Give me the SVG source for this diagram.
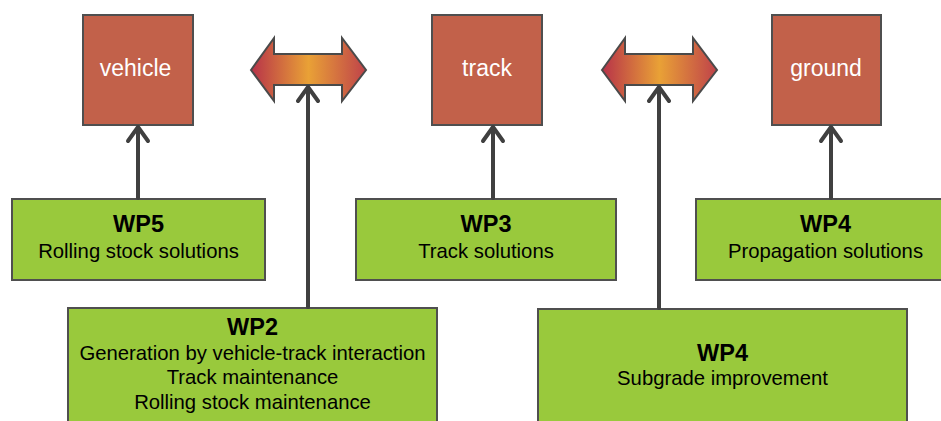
<svg xmlns="http://www.w3.org/2000/svg" width="941" height="421" viewBox="0 0 941 421">
  <style>
    .sys { fill: #c2614a; stroke: #4f4f4f; stroke-width: 2; }
    .wp { fill: #99c93c; stroke: #4f4f4f; stroke-width: 2; }
    .sysText { font-family: "Liberation Sans", Arial, sans-serif; font-size: 23px; fill: #ffffff; text-anchor: middle; }
    .title { font-family: "Liberation Sans", Arial, sans-serif; font-size: 23.5px; font-weight: bold; fill: #000000; text-anchor: middle; }
    .body { font-family: "Liberation Sans", Arial, sans-serif; font-size: 20.3px; fill: #000000; text-anchor: middle; }
    .link { stroke: #404040; stroke-width: 4; fill: none; stroke-linecap: round; stroke-linejoin: round; }
    .dbl { stroke: #4a4a4a; stroke-width: 2; }
  </style>
  <defs>
    <linearGradient id="interact" x1="0" y1="0" x2="1" y2="0">
      <stop offset="0" stop-color="#b73249"/>
      <stop offset="0.5" stop-color="#e9a136"/>
      <stop offset="1" stop-color="#bf424a"/>
    </linearGradient>
  </defs>

  <!-- system boxes -->
  <g id="vehicle">
    <rect class="sys" x="83" y="15" width="110" height="110"/>
    <text class="sysText" x="135.5" y="76">vehicle</text>
  </g>
  <g id="track">
    <rect class="sys" x="432" y="15" width="110" height="110"/>
    <text class="sysText" x="487" y="76">track</text>
  </g>
  <g id="ground">
    <rect class="sys" x="772" y="15" width="109" height="110"/>
    <text class="sysText" x="826" y="76">ground</text>
  </g>

  <!-- interaction arrows -->
  <g id="vehicle-track-interaction">
    <polygon class="dbl" fill="url(#interact)" points="251,70 274,38 274,54 342,54 342,38 366,70 342,101 342,85 274,85 274,101"/>
  </g>
  <g id="track-ground-interaction">
    <polygon class="dbl" fill="url(#interact)" points="602,70 625,38 625,54 693,54 693,38 717,70 693,101 693,85 625,85 625,101"/>
  </g>

  <!-- work packages -->
  <g id="wp5">
    <rect class="wp" x="12" y="199" width="253" height="81"/>
    <text class="title" x="138.5" y="232">WP5</text>
    <text class="body" x="138.5" y="258">Rolling stock solutions</text>
  </g>
  <g id="wp3">
    <rect class="wp" x="356" y="199" width="260" height="81"/>
    <text class="title" x="486" y="232">WP3</text>
    <text class="body" x="486" y="258">Track solutions</text>
  </g>
  <g id="wp4-propagation">
    <rect class="wp" x="696" y="199" width="262" height="81"/>
    <text class="title" x="825.5" y="232">WP4</text>
    <text class="body" x="825.5" y="258">Propagation solutions</text>
  </g>
  <g id="wp2">
    <rect class="wp" x="68" y="308" width="369" height="130"/>
    <text class="title" x="252.5" y="335">WP2</text>
    <text class="body" x="252.5" y="360">Generation by vehicle-track interaction</text>
    <text class="body" x="252.5" y="384">Track maintenance</text>
    <text class="body" x="252.5" y="409">Rolling stock maintenance</text>
  </g>
  <g id="wp4-subgrade">
    <rect class="wp" x="538" y="309" width="369" height="130"/>
    <text class="title" x="722.5" y="361">WP4</text>
    <text class="body" x="722.5" y="385">Subgrade improvement</text>
  </g>

  <!-- connectors -->
  <g id="connectors">
    <path class="link" d="M138 198 V127 M128 141 L138 127 L148 141"/>
    <path class="link" d="M493 198 V127 M483 141 L493 127 L503 141"/>
    <path class="link" d="M831 198 V127 M821 141 L831 127 L841 141"/>
    <path class="link" d="M308 307 V87 M298 101 L308 87 L318 101"/>
    <path class="link" d="M659 308 V87 M649 101 L659 87 L669 101"/>
  </g>
</svg>
